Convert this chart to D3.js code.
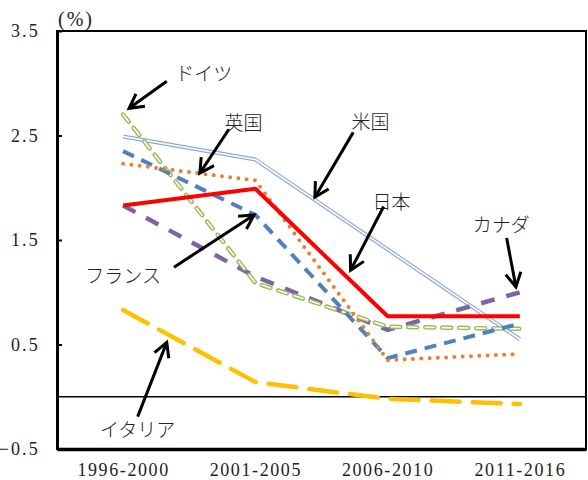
<!DOCTYPE html>
<html>
<head>
<meta charset="utf-8">
<script src="https://cdn.jsdelivr.net/npm/d3@7"></script>
<style>
  html, body { margin: 0; padding: 0; background: #fff; }
  svg { display: block; }
  .tick-label { font-family: "Liberation Serif", "DejaVu Serif", serif; font-size: 18px; fill: #222; }
  .jp { font-family: "Noto Sans CJK JP", sans-serif; font-weight: 300; font-size: 19px; fill: #222; }
</style>
</head>
<body>
<svg id="chart" width="588" height="480"></svg>
<script>
// Periods on the horizontal axis
const periods = ["1996-2000", "2001-2005", "2006-2010", "2011-2016"];

// Average values per period (%)
const japan   = [1.83, 1.99, 0.77, 0.77];
const usa     = [2.49, 2.27, 1.41, 0.55];
const germany = [2.70, 1.09, 0.67, 0.65];
const uk      = [2.23, 2.07, 0.35, 0.41];
const france  = [2.35, 1.74, 0.37, 0.70];
const canada  = [1.83, 1.15, 0.64, 1.00];
const italy   = [0.83, 0.14, -0.02, -0.07];

// Vertical axis tick values
const yTicks = [-0.5, 0.5, 1.5, 2.5, 3.5];

const svg = d3.select("#chart");
const margin = { top: 31, right: 2, bottom: 31, left: 57 };
const W = 588, H = 480;

const x = d3.scalePoint().domain(periods).range([margin.left, W - margin.right]).padding(0.5);
const y = d3.scaleLinear().domain([-0.5, 3.5]).range([H - margin.bottom, margin.top]);

// position helper for annotations: fractional period index + value
const step = x.step();
const px = i => x(periods[0]) + i * step;

// plot frame
svg.append("rect")
  .attr("x", margin.left).attr("y", margin.top)
  .attr("width", W - margin.left - margin.right)
  .attr("height", H - margin.top - margin.bottom)
  .attr("fill", "none").attr("stroke", "#000").attr("stroke-width", 2);

// zero line
svg.append("line")
  .attr("x1", margin.left).attr("x2", W - margin.right)
  .attr("y1", y(0)).attr("y2", y(0))
  .attr("stroke", "#000").attr("stroke-width", 1.5);

// y axis
const yAxis = d3.axisLeft(y).tickValues(yTicks).tickSizeInner(-5).tickSizeOuter(0)
  .tickFormat(d3.format(".1f")).tickPadding(20);
const gy = svg.append("g").attr("transform", `translate(${margin.left},0)`).call(yAxis);
gy.select(".domain").attr("stroke-width", 3);
gy.selectAll(".tick line").attr("stroke-width", 2);
gy.selectAll(".tick text").attr("class", "tick-label").attr("font-size", null).attr("font-family", null)
  .style("letter-spacing", "2.2px").attr("x", -17);

// x axis
const xAxis = d3.axisBottom(x).tickSize(0).tickSizeOuter(0).tickPadding(14);
const gx = svg.append("g").attr("transform", `translate(0,${H - margin.bottom})`).call(xAxis);
gx.select(".domain").attr("stroke-width", 3.5);
gx.selectAll(".tick text").attr("class", "tick-label").attr("font-size", null).attr("font-family", null)
  .style("letter-spacing", "1.6px");

// unit label
svg.append("text").attr("class", "tick-label")
  .attr("x", margin.left + 1).attr("y", 26).style("font-size", "20px").style("letter-spacing", "2px")
  .text("(%)");

const line = d3.line().x((d, i) => x(periods[i])).y(d => y(d));

function drawSeries(values, layers) {
  layers.forEach(l => {
    svg.append("path").datum(values)
      .attr("d", line)
      .attr("fill", "none")
      .attr("stroke", l.color)
      .attr("stroke-width", l.width)
      .attr("stroke-dasharray", l.dash || null)
      .attr("stroke-linecap", l.cap || "butt")
      .attr("stroke-linejoin", "round");
  });
}

// Italy: long gold dashes
drawSeries(italy, [{ color: "#FFC000", width: 4.5, dash: "28,13", cap: "round" }]);
// USA: light blue double line
drawSeries(usa, [{ color: "#8EA9DB", width: 4 }, { color: "#fff", width: 1.6 }]);
// Canada: purple dashes
drawSeries(canada, [{ color: "#8064A2", width: 4.5, dash: "14,12", cap: "butt" }]);
// Germany: green outlined dashes
drawSeries(germany, [
  { color: "#9BBB59", width: 4.5, dash: "9,8", cap: "round" },
  { color: "#fff", width: 1.6, dash: "9,8", cap: "round" }
]);
// France: blue dashes
drawSeries(france, [{ color: "#4F81BD", width: 4, dash: "12,8", cap: "butt" }]);
// UK: orange dots
drawSeries(uk, [{ color: "#ED7D31", width: 4, dash: "0,8.3", cap: "round" }]);
// Japan: red solid
drawSeries(japan, [{ color: "#FF0000", width: 4 }]);

// Country labels with arrows (positions in period index / value units)
const labels = ["ドイツ", "英国", "米国", "日本", "カナダ", "フランス", "イタリア"];
const labelPos = [[0.61, 3.10], [0.91, 2.63], [1.87, 2.64], [2.03, 1.88], [2.86, 1.66], [0.0, 1.17], [0.11, -0.30]];
const arrowFrom = [[0.33, 3.02], [0.80, 2.56], [1.74, 2.53], [1.97, 1.82], [2.90, 1.52], [0.385, 1.24], [0.11, -0.19]];
const arrowTo = [[0.045, 2.76], [0.58, 2.14], [1.45, 1.91], [1.72, 1.21], [2.97, 1.05], [0.99, 1.74], [0.33, 0.52]];

labels.forEach((t, k) => {
  svg.append("text").attr("class", "jp")
    .attr("x", px(labelPos[k][0])).attr("y", y(labelPos[k][1]))
    .attr("text-anchor", "middle").attr("dominant-baseline", "central")
    .text(t);
  const x1 = px(arrowFrom[k][0]), y1 = y(arrowFrom[k][1]);
  const x2 = px(arrowTo[k][0]), y2 = y(arrowTo[k][1]);
  const ang = Math.atan2(y2 - y1, x2 - x1);
  const L = 16, a = 0.5;
  const h1 = [x2 - L * Math.cos(ang - a), y2 - L * Math.sin(ang - a)];
  const h2 = [x2 - L * Math.cos(ang + a), y2 - L * Math.sin(ang + a)];
  svg.append("line").attr("x1", x1).attr("y1", y1).attr("x2", x2).attr("y2", y2)
    .attr("stroke", "#000").attr("stroke-width", 3);
  svg.append("path").attr("d", `M${h1[0]},${h1[1]}L${x2},${y2}L${h2[0]},${h2[1]}`)
    .attr("fill", "none").attr("stroke", "#000").attr("stroke-width", 3)
    .attr("stroke-linejoin", "miter");
});
</script>
</body>
</html>
